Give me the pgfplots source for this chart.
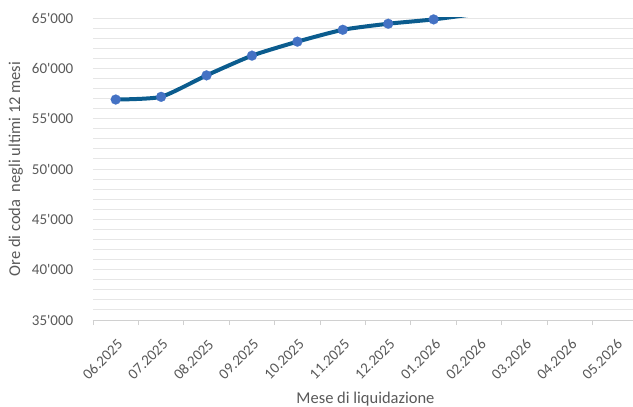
\documentclass[border=0pt]{standalone}
\usepackage{pgfplots}
\pgfplotsset{compat=1.18}
\usepackage{fontspec}
\setmainfont{Carlito}
\definecolor{txt}{HTML}{595959}
\definecolor{gridc}{HTML}{E6E6E6}
\definecolor{axc}{HTML}{D0D0D0}
\definecolor{linec}{HTML}{0B5C8E}
\definecolor{markc}{HTML}{4472C4}
\begin{document}
\begin{tikzpicture}
\begin{axis}[
  at={(0,0)}, anchor=south west,
  scale only axis,
  width=545bp, height=302bp,
  xmin=-0.5, xmax=11.5,
  ymin=35000, ymax=65000,
  scaled y ticks=false,
  axis x line*=bottom, axis y line*=left,
  y axis line style={draw=none},
  x axis line style={draw=axc, line width=0.9bp},
  xtick={0,...,11},
  xticklabels={06.2025,07.2025,08.2025,09.2025,10.2025,11.2025,12.2025,01.2026,02.2026,03.2026,04.2026,05.2026},
  major x tick style={draw=none},
  minor xtick={-0.5,0.5,...,11.5},
  minor x tick style={draw=axc, line width=0.9bp},
  minor tick length=5bp,
  tick align=outside,
  x tick label style={rotate=45, anchor=north east, font=\fontsize{15bp}{17bp}\selectfont, text=txt, xshift=-6bp, yshift=-7bp},
  ytick={35000,40000,...,65000},
  yticklabels={35\textquotesingle000,40\textquotesingle000,45\textquotesingle000,50\textquotesingle000,55\textquotesingle000,60\textquotesingle000,65\textquotesingle000},
  minor ytick={35000,36000,...,65000},
  major y tick style={draw=none},
  minor y tick style={draw=none},
  y tick label style={font=\fontsize{15bp}{17bp}\selectfont, text=txt, xshift=-12bp},
  ymajorgrids, yminorgrids,
  major grid style={draw=gridc, line width=0.9bp},
  minor grid style={draw=gridc, line width=0.9bp},
  xlabel={Mese di liquidazione},
  ylabel={Ore di coda\ \ negli ultimi 12 mesi},
  label style={font=\fontsize{16.5bp}{19bp}\selectfont, text=txt},
  xlabel style={yshift=-3bp},
  ylabel style={yshift=2bp},
]
\addplot[draw=linec, line width=4bp, smooth, tension=0.35, mark=none]
  coordinates {(0,56900) (1,57170) (2,59300) (3,61260) (4,62650) (5,63830) (6,64430) (7,64860) (8,65450)};
\addplot[draw=markc, fill=markc, only marks, mark=*, mark size=5bp, mark options={solid, draw=markc, fill=markc, line width=0.1bp}]
  coordinates {(0,56900) (1,57170) (2,59300) (3,61260) (4,62650) (5,63830) (6,64430) (7,64860)};
\end{axis}
\pgfresetboundingbox
\path (-93bp,-87bp) rectangle (540bp,320bp);
\end{tikzpicture}
\end{document}
